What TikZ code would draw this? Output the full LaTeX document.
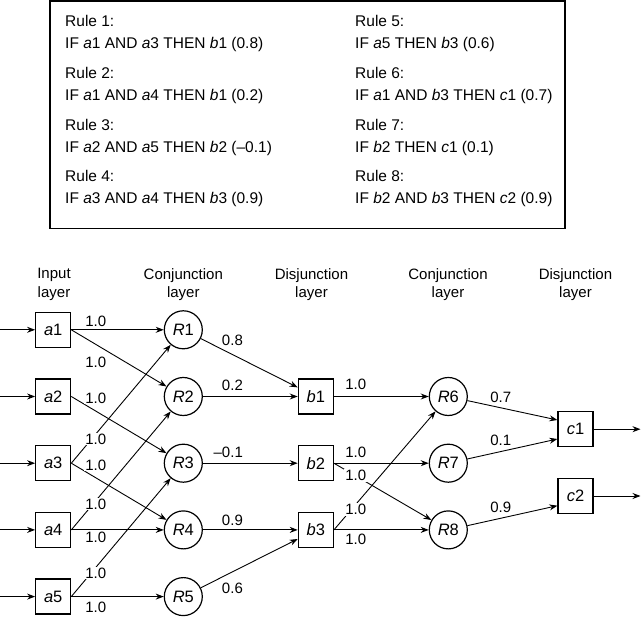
\documentclass[tikz,border=0pt]{standalone}
\usepackage{fontspec}
\setmainfont{Liberation Sans}
\usetikzlibrary{arrows.meta}
\usetikzlibrary{calc}
\newcommand{\nv}[2]{\textit{#1}#2}
\tikzset{
  unit/.style={draw, line width=1.2pt, minimum width=35pt, minimum height=35pt, inner sep=0pt, font=\fontsize{16.5}{18}\selectfont},
  rulenode/.style={draw, circle, line width=1.2pt, minimum size=38pt, inner sep=0pt, font=\fontsize{16.5}{18}\selectfont},
  wire/.style={line width=0.9pt, -{Stealth[length=8pt,width=6pt]}},
  wt/.style={fill=white, inner sep=1pt, anchor=east},
  layer/.style={align=center, font=\fontsize{15}{18.5}\selectfont},
  ruletext/.style={anchor=base west, inner sep=0pt, font=\fontsize{15.5}{19}\selectfont}
}

\begin{document}
\begin{tikzpicture}[x=1pt, y=-1pt, font=\fontsize{15}{18}\selectfont]
  \useasboundingbox (0,0) rectangle (641,617);

  % the rule list
  \draw[line width=1.5pt] (50,1) rectangle (565,228.5);
  \foreach \n/\x/\y/\cond in {
    1/65/26.5/{IF \nv{a}{1} AND \nv{a}{3} THEN \nv{b}{1} (0.8)},
    2/65/78.5/{IF \nv{a}{1} AND \nv{a}{4} THEN \nv{b}{1} (0.2)},
    3/65/130.5/{IF \nv{a}{2} AND \nv{a}{5} THEN \nv{b}{2} (--0.1)},
    4/65/182/{IF \nv{a}{3} AND \nv{a}{4} THEN \nv{b}{3} (0.9)},
    5/355/26.5/{IF \nv{a}{5} THEN \nv{b}{3} (0.6)},
    6/355/78.5/{IF \nv{a}{1} AND \nv{b}{3} THEN \nv{c}{1} (0.7)},
    7/355/130.5/{IF \nv{b}{2} THEN \nv{c}{1} (0.1)},
    8/355/182/{IF \nv{b}{2} AND \nv{b}{3} THEN \nv{c}{2} (0.9)}} {
    \node[ruletext] (rule\n) at (\x,\y) {Rule \n:};
    \node[ruletext] (cond\n) at (\x,\y+22) {\cond};
  }

  % layer headings
  \node[layer] (hin) at (54,284.5) {Input\\layer};
  \node[layer] (hconj1) at (183.3,284.5) {Conjunction\\layer};
  \node[layer] (hdis1) at (311.5,284.5) {Disjunction\\layer};
  \node[layer] (hconj2) at (448,284.5) {Conjunction\\layer};
  \node[layer] (hdis2) at (575.5,284.5) {Disjunction\\layer};

  % input and first conjunction layer
  \foreach \i/\y in {1/329.8, 2/396.5, 3/463.2, 4/529.9, 5/596.6} {
    \node[unit] (a\i) at (53.2,\y) {\nv{a}{\i}};
    \node[rulenode] (R\i) at (183.3,\y) {\nv{R}{\i}};
    \coordinate (in\i) at (0,\y);
    \draw[wire] (in\i) -- (a\i);
  }

  % disjunction and second conjunction layer
  \foreach \i/\j/\y in {1/6/396.5, 2/7/463.2, 3/8/529.9} {
    \node[unit] (b\i) at (315.8,\y) {\nv{b}{\i}};
    \node[rulenode] (R\j) at (448.3,\y) {\nv{R}{\j}};
  }

  % output layer
  \node[unit] (c1) at (575.5,429.2) {\nv{c}{1}};
  \node[unit] (c2) at (575.5,496) {\nv{c}{2}};
  \coordinate (c1u) at ($(c1.west)+(0,-9.2)$);
  \coordinate (c1d) at ($(c1.west)+(0,9.8)$);
  \coordinate (c2d) at ($(c2.west)+(0,9.7)$);
  \coordinate (out1) at (640.5,429.2);
  \coordinate (out2) at (640.5,496);
  \draw[wire] (c1) -- (out1);
  \draw[wire] (c2) -- (out2);

  % weighted links out of boxes
  \foreach \s/\t/\w/\dx/\dy in {
    a1/R1/1.0/54.5/-8.8, a1/R2/1.0/54.5/32.2, a2/R3/1.0/54.5/1.5,
    a3/R1/1.0/54.5/-24.2, a3/R4/1.0/54.5/1.8, a4/R2/1.0/54.5/-25.9,
    a4/R4/1.0/54.5/7.1, a5/R3/1.0/54.5/-23.6, a5/R5/1.0/54.5/10.4,
    b1/R6/1.0/51.9/-12.3, b2/R7/1.0/51.9/-10.4, b2/R8/1.0/51.9/12.6,
    b3/R6/1.0/51.9/-20.4, b3/R8/1.0/51.9/9.3}
    \draw[wire] (\s.east) -- (\t) node[wt] at ($(\s)+(\dx,\dy)$) {\w};

  % weighted links out of rules
  \foreach \s/\t/\w/\dx/\dy in {
    R1/b1/0.8/61/10.2, R2/b1/0.2/61/-10.7, R3/b2/--0.1/61/-10.5,
    R4/b3/0.9/61/-9.2, R5/b3/0.6/61/-8.6,
    R6/c1u/0.7/64.4/1, R7/c1d/0.1/64.4/-22.4, R8/c2d/0.9/64.4/-22.4}
    \draw[wire] (\s) -- (\t) node[wt] at ($(\s)+(\dx,\dy)$) {\w};
\end{tikzpicture}
\end{document}
